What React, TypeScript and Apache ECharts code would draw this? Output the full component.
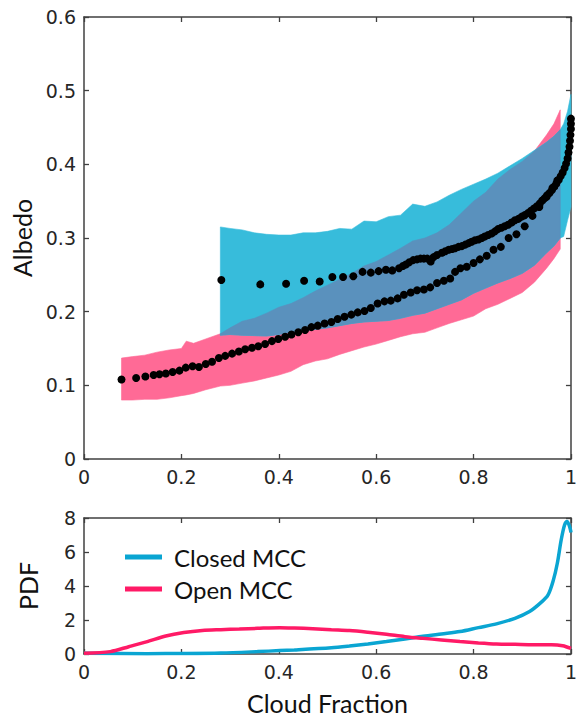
import React, { useEffect, useRef } from "react";
import * as echarts from "echarts";

// ---- Open MCC albedo band (pink) ----
const openBandX = [0.077, 0.1, 0.125, 0.15, 0.175, 0.2, 0.21, 0.225, 0.25, 0.28, 0.3, 0.325, 0.35, 0.375, 0.4, 0.425, 0.45, 0.475, 0.5, 0.525, 0.55, 0.575, 0.6, 0.625, 0.65, 0.675, 0.7, 0.725, 0.75, 0.775, 0.8, 0.825, 0.85, 0.875, 0.9, 0.925, 0.95, 0.965, 0.978];
const openBandUpper = [0.137, 0.139, 0.141, 0.145, 0.148, 0.15, 0.16, 0.157, 0.163, 0.17, 0.178, 0.187, 0.191, 0.198, 0.206, 0.211, 0.219, 0.228, 0.236, 0.244, 0.252, 0.262, 0.268, 0.277, 0.286, 0.296, 0.3, 0.307, 0.318, 0.334, 0.35, 0.362, 0.38, 0.393, 0.404, 0.418, 0.44, 0.455, 0.474];
const openBandLower = [0.08, 0.08, 0.081, 0.081, 0.083, 0.086, 0.087, 0.089, 0.094, 0.099, 0.1, 0.103, 0.106, 0.11, 0.114, 0.119, 0.128, 0.133, 0.136, 0.142, 0.147, 0.152, 0.156, 0.161, 0.166, 0.17, 0.172, 0.178, 0.184, 0.189, 0.194, 0.204, 0.21, 0.218, 0.226, 0.24, 0.259, 0.272, 0.285];

// ---- Closed MCC albedo band (cyan) ----
const closedBandX = [0.28, 0.3, 0.325, 0.35, 0.375, 0.4, 0.425, 0.45, 0.475, 0.5, 0.525, 0.55, 0.575, 0.6, 0.625, 0.65, 0.675, 0.7, 0.725, 0.75, 0.775, 0.8, 0.825, 0.85, 0.875, 0.9, 0.925, 0.95, 0.965, 0.978, 0.985, 0.993, 1.0];
const closedBandUpper = [0.315, 0.313, 0.311, 0.307, 0.305, 0.304, 0.304, 0.307, 0.307, 0.309, 0.313, 0.312, 0.323, 0.322, 0.329, 0.331, 0.346, 0.343, 0.349, 0.358, 0.366, 0.373, 0.38, 0.388, 0.398, 0.408, 0.419, 0.43, 0.438, 0.447, 0.455, 0.472, 0.495];
const closedBandLower = [0.168, 0.169, 0.168, 0.1675, 0.167, 0.169, 0.1725, 0.174, 0.176, 0.178, 0.181, 0.184, 0.186, 0.187, 0.188, 0.191, 0.195, 0.198, 0.204, 0.21, 0.216, 0.225, 0.232, 0.239, 0.245, 0.252, 0.263, 0.28, 0.289, 0.3, 0.302, 0.324, 0.342];

// ---- Mean albedo dots ----
const closedMeanX = [0.282, 0.362, 0.415, 0.452, 0.484, 0.51, 0.532, 0.553, 0.572, 0.589, 0.605, 0.62, 0.633, 0.647, 0.655, 0.661, 0.668, 0.676, 0.684, 0.691, 0.698, 0.705, 0.712, 0.718, 0.725, 0.735, 0.742, 0.749, 0.756, 0.762, 0.769, 0.776, 0.783, 0.79, 0.796, 0.803, 0.81, 0.817, 0.823, 0.83, 0.837, 0.844, 0.85, 0.857, 0.864, 0.871, 0.878, 0.885, 0.892, 0.899, 0.905, 0.912, 0.918, 0.924, 0.93, 0.936, 0.941, 0.946, 0.951, 0.956, 0.961, 0.966, 0.97, 0.975, 0.979, 0.983, 0.987, 0.99, 0.993, 0.995, 0.997, 0.998, 0.999, 1.0, 1.0, 1.0];
const closedMeanY = [0.243, 0.237, 0.238, 0.242, 0.241, 0.247, 0.247, 0.248, 0.254, 0.253, 0.255, 0.257, 0.256, 0.259, 0.262, 0.264, 0.267, 0.27, 0.271, 0.272, 0.272, 0.272, 0.268, 0.274, 0.277, 0.28, 0.282, 0.284, 0.285, 0.286, 0.288, 0.289, 0.291, 0.293, 0.295, 0.297, 0.298, 0.3, 0.302, 0.304, 0.306, 0.309, 0.312, 0.314, 0.316, 0.318, 0.321, 0.324, 0.326, 0.329, 0.331, 0.334, 0.337, 0.34, 0.343, 0.347, 0.351, 0.354, 0.358, 0.361, 0.365, 0.37, 0.374, 0.379, 0.384, 0.389, 0.395, 0.401, 0.408, 0.416, 0.424, 0.432, 0.44, 0.448, 0.455, 0.462];
const openMeanX = [0.077, 0.107, 0.126, 0.143, 0.155, 0.168, 0.182, 0.196, 0.209, 0.223, 0.236, 0.25, 0.263, 0.277, 0.29, 0.304, 0.318, 0.331, 0.345, 0.358, 0.372, 0.386, 0.399, 0.413, 0.426, 0.44, 0.454, 0.467, 0.48, 0.494, 0.508, 0.521, 0.535, 0.549, 0.562, 0.576, 0.589, 0.603, 0.617, 0.63, 0.644, 0.657, 0.671, 0.684, 0.698, 0.711, 0.725, 0.739, 0.752, 0.762, 0.773, 0.786, 0.8, 0.813, 0.827, 0.841, 0.856, 0.872, 0.888, 0.905, 0.921, 0.935, 0.95, 0.962, 0.972];
const openMeanY = [0.108, 0.11, 0.112, 0.114, 0.115, 0.116, 0.118, 0.12, 0.124, 0.126, 0.125, 0.129, 0.132, 0.137, 0.14, 0.143, 0.146, 0.149, 0.151, 0.153, 0.156, 0.16, 0.163, 0.166, 0.169, 0.172, 0.175, 0.179, 0.181, 0.184, 0.186, 0.19, 0.193, 0.196, 0.199, 0.201, 0.205, 0.211, 0.214, 0.215, 0.218, 0.223, 0.226, 0.229, 0.23, 0.233, 0.239, 0.242, 0.245, 0.254, 0.259, 0.261, 0.266, 0.271, 0.276, 0.284, 0.288, 0.3, 0.305, 0.316, 0.33, 0.342, 0.356, 0.368, 0.378];

// ---- PDF of cloud fraction ----
const pdfClosedX = [0, 0.13, 0.205, 0.281, 0.356, 0.402, 0.432, 0.508, 0.545, 0.583, 0.621, 0.659, 0.696, 0.734, 0.772, 0.81, 0.847, 0.885, 0.915, 0.937, 0.953, 0.964, 0.972, 0.98, 0.987, 0.992, 0.996, 0.999, 1.0];
const pdfClosedY = [0.05, 0.02, 0.03, 0.06, 0.14, 0.2, 0.24, 0.37, 0.47, 0.59, 0.73, 0.88, 1.04, 1.18, 1.32, 1.55, 1.77, 2.1, 2.5, 2.99, 3.48, 4.36, 5.34, 6.72, 7.6, 7.8, 7.6, 7.3, 7.15];
const pdfOpenX = [0, 0.054, 0.092, 0.13, 0.168, 0.205, 0.243, 0.281, 0.319, 0.356, 0.402, 0.432, 0.47, 0.508, 0.545, 0.583, 0.621, 0.659, 0.696, 0.734, 0.772, 0.81, 0.847, 0.885, 0.923, 0.96, 0.983, 1.0];
const pdfOpenY = [0.04, 0.14, 0.43, 0.73, 1.06, 1.26, 1.38, 1.43, 1.47, 1.51, 1.55, 1.53, 1.49, 1.43, 1.38, 1.28, 1.16, 1.02, 0.92, 0.83, 0.73, 0.65, 0.59, 0.57, 0.55, 0.55, 0.49, 0.33];

const xTicks01 = { min: 0, max: 1, interval: 0.2 };
const albedoTicks = { min: 0, max: 0.6, interval: 0.1 };
const pdfTicks = { min: 0, max: 8, interval: 2 };

const PINK = "#ff6a96";
const CYAN = "#37bcdb";
const STEEL = "#5a91bd";
const LINE_CLOSED = "#0aa5d2";
const LINE_OPEN = "#ff1a66";
const AXIS = "#404040";
const TICK_FONT = "DejaVu Sans";
const NAME_FONT = "Lato";

function interp(xs: number[], ys: number[], x: number): number {
  if (x <= xs[0]) return ys[0];
  for (let i = 1; i < xs.length; i++) {
    if (x <= xs[i]) {
      const t = (x - xs[i - 1]) / (xs[i] - xs[i - 1]);
      return ys[i - 1] + t * (ys[i] - ys[i - 1]);
    }
  }
  return ys[ys.length - 1];
}

function bandSeries(xs: number[], lo: number[], hi: number[], color: string) {
  const data = xs.map((x, i) => [x, lo[i], hi[i]]);
  return {
    type: "custom",
    xAxisIndex: 0,
    yAxisIndex: 0,
    silent: true,
    data,
    encode: { x: 0, y: [1, 2] },
    renderItem: (params: any, api: any) => {
      if (params.dataIndex !== 0) return null;
      const pts: number[][] = [];
      for (let i = 0; i < data.length; i++) pts.push(api.coord([data[i][0], data[i][2]]));
      for (let i = data.length - 1; i >= 0; i--) pts.push(api.coord([data[i][0], data[i][1]]));
      return {
        type: "polygon",
        shape: { points: pts },
        style: { fill: color, stroke: color, lineWidth: 0.6 },
      };
    },
  };
}

function frameAxis(gridIndex: number, ticks: any, position: string, showLabels: boolean, extra: any = {}) {
  return {
    type: "value",
    gridIndex,
    position,
    ...ticks,
    axisLine: { show: true, onZero: false, lineStyle: { color: AXIS, width: 1.5 } },
    axisTick: { show: true, inside: true, length: 5, lineStyle: { color: AXIS, width: 1.3 } },
    splitLine: { show: false },
    axisLabel: {
      show: showLabels,
      color: "#262626",
      fontFamily: TICK_FONT,
      fontSize: 19,
      margin: 8,
    },
    ...extra,
  };
}

export default function App() {
  const ref = useRef<HTMLDivElement>(null);

  useEffect(() => {
    if (!ref.current) return;
    const chart = echarts.init(ref.current, null, { renderer: "svg" });

    // overlap of the two bands, on the closed-band grid where both exist
    const ovX: number[] = [];
    const ovLo: number[] = [];
    const ovHi: number[] = [];
    const openEnd = openBandX[openBandX.length - 1];
    closedBandX.forEach((x, i) => {
      if (x > openEnd) return;
      const lo = Math.max(closedBandLower[i], interp(openBandX, openBandLower, x));
      let hi = Math.min(closedBandUpper[i], interp(openBandX, openBandUpper, x));
      if (hi < lo) hi = lo;
      ovX.push(x);
      ovLo.push(lo);
      ovHi.push(hi);
    });

    const nameStyle = { fontFamily: NAME_FONT, fontSize: 25, color: "#111" };

    chart.setOption({
      animation: false,
      backgroundColor: "#ffffff",
      grid: [
        { left: 84, top: 17, width: 491, height: 442 },
        { left: 84, top: 518, width: 491, height: 136 },
      ],
      xAxis: [
        frameAxis(0, xTicks01, "bottom", true),
        frameAxis(0, xTicks01, "top", false),
        frameAxis(1, xTicks01, "bottom", true, {
          name: "Cloud Fraction",
          nameLocation: "middle",
          nameGap: 36,
          nameTextStyle: nameStyle,
        }),
        frameAxis(1, xTicks01, "top", false),
      ],
      yAxis: [
        frameAxis(0, albedoTicks, "left", true, {
          name: "Albedo",
          nameLocation: "middle",
          nameGap: 44,
          nameTextStyle: nameStyle,
        }),
        frameAxis(0, albedoTicks, "right", false),
        frameAxis(1, pdfTicks, "left", true, {
          name: "PDF",
          nameLocation: "middle",
          nameGap: 44,
          nameTextStyle: nameStyle,
        }),
        frameAxis(1, pdfTicks, "right", false),
      ],
      legend: {
        left: 120,
        top: 540,
        orient: "vertical",
        itemWidth: 37,
        itemHeight: 5,
        itemGap: 8,
        icon: "rect",
        data: ["Closed MCC", "Open MCC"],
        textStyle: { fontFamily: NAME_FONT, fontSize: 24, color: "#111", lineHeight: 24, padding: [0, 0, 0, 7] },
      },
      series: [
        bandSeries(openBandX, openBandLower, openBandUpper, PINK),
        bandSeries(closedBandX, closedBandLower, closedBandUpper, CYAN),
        bandSeries(ovX, ovLo, ovHi, STEEL),
        {
          type: "scatter",
          xAxisIndex: 0,
          yAxisIndex: 0,
          symbol: "circle",
          symbolSize: 8,
          itemStyle: { color: "#000", opacity: 1 },
          data: openMeanX.map((x, i) => [x, openMeanY[i]]),
        },
        {
          type: "scatter",
          xAxisIndex: 0,
          yAxisIndex: 0,
          symbol: "circle",
          symbolSize: 8,
          itemStyle: { color: "#000", opacity: 1 },
          data: closedMeanX.map((x, i) => [x, closedMeanY[i]]),
        },
        {
          name: "Closed MCC",
          type: "line",
          xAxisIndex: 2,
          yAxisIndex: 2,
          smooth: 0.3,
          showSymbol: false,
          lineStyle: { color: LINE_CLOSED, width: 3.5 },
          itemStyle: { color: LINE_CLOSED },
          data: pdfClosedX.map((x, i) => [x, pdfClosedY[i]]),
        },
        {
          name: "Open MCC",
          type: "line",
          xAxisIndex: 2,
          yAxisIndex: 2,
          smooth: 0.3,
          showSymbol: false,
          lineStyle: { color: LINE_OPEN, width: 3.5 },
          itemStyle: { color: LINE_OPEN },
          data: pdfOpenX.map((x, i) => [x, pdfOpenY[i]]),
        },
      ],
    });

    return () => chart.dispose();
  }, []);

  return (
    <div
      ref={ref}
      style={{ position: "absolute", left: 0, top: 0, width: 580, height: 719, background: "#fff" }}
    />
  );
}
